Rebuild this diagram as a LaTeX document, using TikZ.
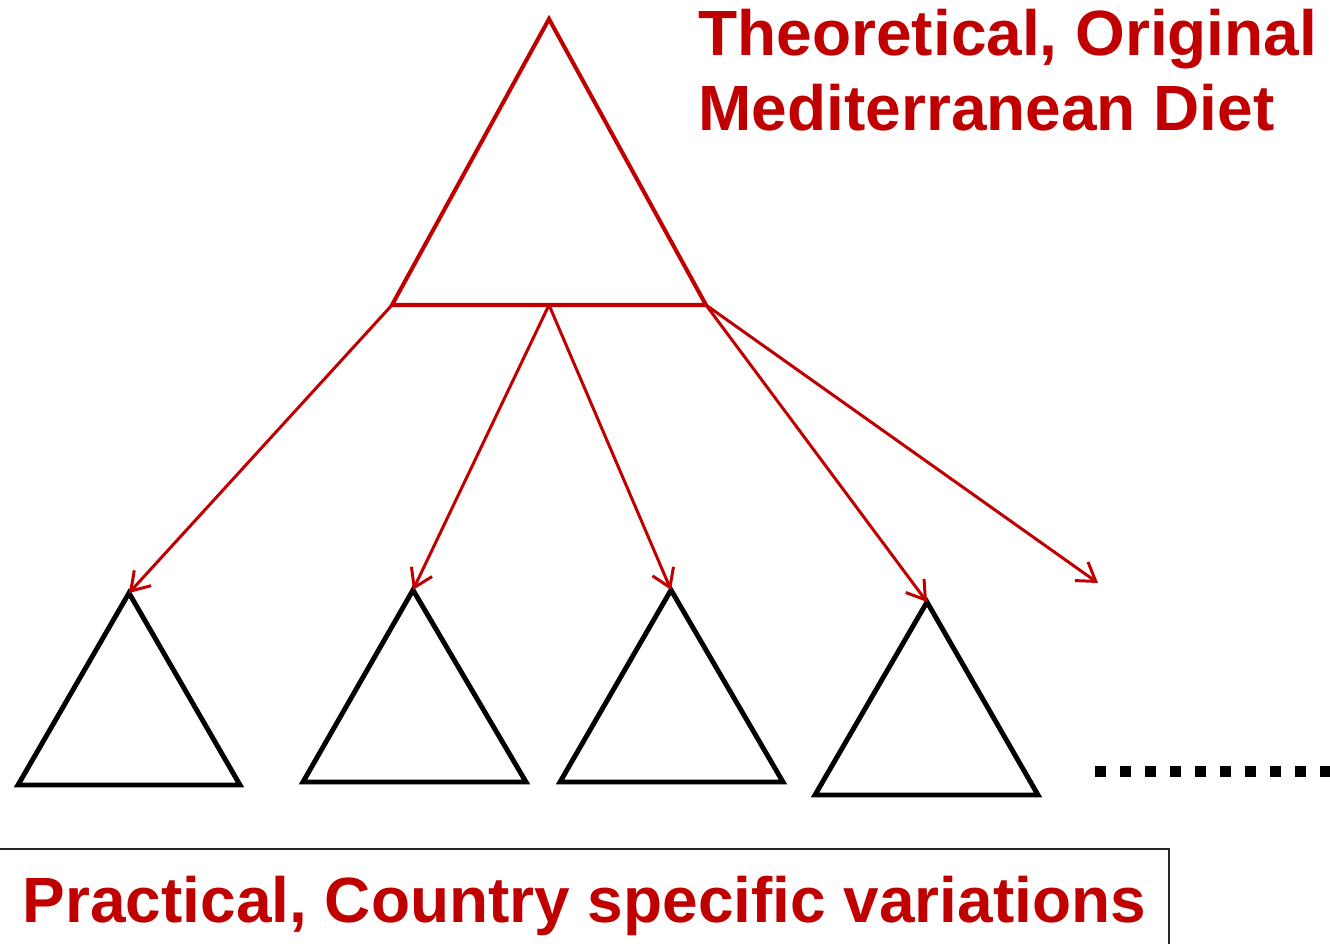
\documentclass[tikz,border=0pt]{standalone}
\usepackage{fontspec}
\setmainfont{Liberation Sans}
\usepackage{xcolor}
\usepackage{tikz}
\usetikzlibrary{arrows.meta}
\definecolor{dietred}{RGB}{192,0,0}

\begin{document}
\begin{tikzpicture}[>={Straight Barb[length=5pt, width=6.5pt]},
  labeltext/.style={font=\fontsize{18.2}{21.3}\selectfont\bfseries, text=dietred, inner sep=0pt},
  origtri/.style={draw=dietred, line width=1.15pt, line join=miter},
  vartri/.style={draw=black, line width=1.4pt, line join=miter},
  spread/.style={->, draw=dietred, line width=0.85pt}]

% canvas 13.3 x 9.43 (1 unit = 100 px of the reference)
\useasboundingbox (0,0) rectangle (13.3,9.43);

%% ── original diet triangle ───────────────────────────────────────
\coordinate (origtop) at (5.49,9.24);
\coordinate (origleft) at (3.92,6.38);
\coordinate (origmid) at (5.49,6.38);
\coordinate (origright) at (7.06,6.38);
\draw[origtri] (origtop) -- (origright) -- (origleft) -- cycle;

%% ── country variations (apex, base left, base right) ─────────────
\foreach \name/\ax/\ay/\bl/\br/\by in {varA/1.29/3.50/0.18/2.40/1.58,
                                       varB/4.13/3.53/3.03/5.26/1.61,
                                       varC/6.71/3.53/5.60/7.83/1.61,
                                       varD/9.27/3.41/8.15/10.38/1.48}{
  \coordinate (\name top) at (\ax,\ay);
  \coordinate (\name left) at (\bl,\by);
  \coordinate (\name right) at (\br,\by);
  \draw[vartri] (\name top) -- (\name right) -- (\name left) -- cycle;
}
\coordinate (moreend) at (10.98,3.60);

%% ── arrows from the original down to the variations ──────────────
\draw[spread] (origleft) -- (varAtop);
\draw[spread] (origmid) -- (varBtop);
\draw[spread] (origmid) -- (varCtop);
\draw[spread] (origright) -- (varDtop);
\draw[spread] (origright) -- (moreend);

%% ── trailing dots ────────────────────────────────────────────────
\coordinate (dotstart) at (10.95,1.72);
\coordinate (dotend) at (13.40,1.72);
\draw[line width=0.11cm, dash pattern=on 0.11cm off 0.14cm] (dotstart) -- (dotend);

%% ── labels ───────────────────────────────────────────────────────
\node[labeltext, anchor=base west] (titleA) at (6.98,8.87) {Theoretical, Original};
\node[labeltext, anchor=base west] (titleB) at (6.98,8.12) {Mediterranean Diet};

\draw[line width=0.5pt, black!85] (-0.1,-0.2) rectangle (11.69,0.94);
\node[labeltext, anchor=base west] (practical) at (0.22,0.21) {Practical, Country specific variations};

\end{tikzpicture}
\end{document}
